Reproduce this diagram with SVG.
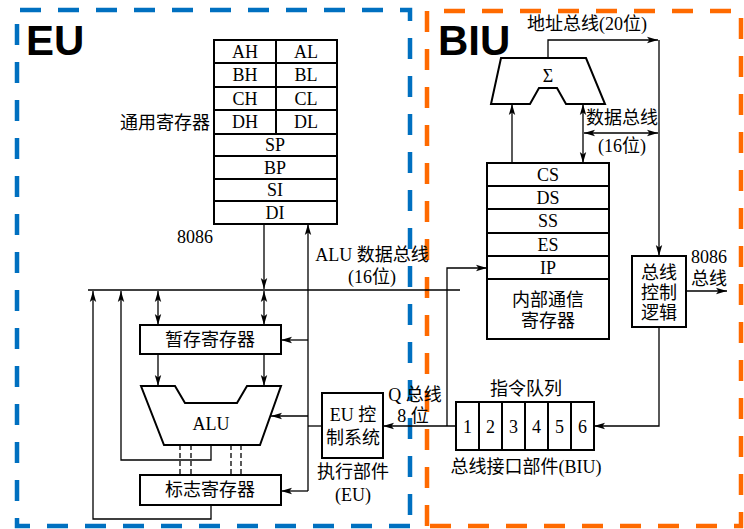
<svg xmlns="http://www.w3.org/2000/svg" width="744" height="529" viewBox="0 0 744 529">
<style>
.box{fill:#fff;stroke:#000;stroke-width:2}
.sep{fill:none;stroke:#000;stroke-width:2}
.ln{fill:none;stroke:#000;stroke-width:1.3}
.da{fill:none;stroke:#000;stroke-width:1.3;stroke-dasharray:5 3}
.t{font-family:"Liberation Serif","Noto Sans CJK SC",serif;font-size:18px;fill:#000;text-anchor:middle;dominant-baseline:central}
.big{font-family:"Liberation Sans",Arial,sans-serif;font-weight:bold;font-size:42px;fill:#000}
.eu{fill:none;stroke:#0070C0;stroke-width:4.5;stroke-dasharray:21 17}
.biu{fill:none;stroke:#FF6A00;stroke-width:4.5;stroke-dasharray:21 17}
</style>
<defs>
<marker id="a" markerUnits="userSpaceOnUse" markerWidth="12" markerHeight="8" refX="11" refY="4" orient="auto-start-reverse">
<path d="M0,0.8 L11,4 L0,7.2 L2.5,4 z" fill="#000"/>
</marker>
</defs>

<g id="eu-frame">
<path class="eu" d="M410,526 H17 V10 H410 Z" stroke-dashoffset="0"/>
<text class="big" x="26" y="55">EU</text>
</g>
<g id="biu-frame">
<path class="biu" d="M427,526 V11 H741 V526 Z"/>
<text class="big" x="438" y="55">BIU</text>
</g>

<g id="connectors">
<path class="ln" d="M88,290 H460"/>
<path class="ln" d="M264,224 V289" marker-end="url(#a)"/>
<path class="ln" d="M264,291 V325" marker-start="url(#a)" marker-end="url(#a)"/>
<path class="ln" d="M158,291 V325" marker-start="url(#a)" marker-end="url(#a)"/>
<path class="ln" d="M158,354 V386" marker-end="url(#a)"/>
<path class="ln" d="M264,354 V386" marker-end="url(#a)"/>
<path class="ln" d="M308,491 V224" marker-end="url(#a)"/>
<path class="ln" d="M308,340 H281" marker-end="url(#a)"/>
<path class="ln" d="M308,416 H271" marker-end="url(#a)"/>
<path class="ln" d="M308,491 H281" marker-end="url(#a)"/>
<path class="ln" d="M322,426 H308"/>
<path class="ln" d="M211,445 V460 H121 V291" marker-end="url(#a)"/>
<path class="ln" d="M211,505 V519 H93 V291" marker-end="url(#a)"/>
<path class="da" d="M180,445 V475 M191,445 V475 M231,445 V475 M241,445 V475"/>
<path class="ln" d="M456,426 H383" marker-end="url(#a)"/>
<path class="ln" d="M447,426 V268 H487" marker-end="url(#a)"/>
<path class="ln" d="M548,58 V40 H658" marker-end="url(#a)"/>
<path class="ln" d="M659,40 V256" marker-end="url(#a)"/>
<path class="ln" d="M512,163 V104" marker-end="url(#a)"/>
<path class="ln" d="M583,104 V163" marker-start="url(#a)" marker-end="url(#a)"/>
<path class="ln" d="M584,133 H658" marker-start="url(#a)" marker-end="url(#a)"/>
<path class="ln" d="M686,291 H727" marker-end="url(#a)"/>
<path class="ln" d="M659,327 V426 H594" marker-end="url(#a)"/>
</g>

<g id="gp-registers">
<rect class="box" x="214" y="40" width="123" height="184"/>
<path class="sep" d="M214,63 H337 M214,87 H337 M214,110 H337 M214,134 H337 M214,156 H337 M214,179 H337 M214,201 H337 M276,40 V134"/>
<text class="t" x="245" y="52">AH</text><text class="t" x="306" y="52">AL</text>
<text class="t" x="245" y="75">BH</text><text class="t" x="306" y="75">BL</text>
<text class="t" x="245" y="99">CH</text><text class="t" x="306" y="99">CL</text>
<text class="t" x="245" y="122">DH</text><text class="t" x="306" y="122">DL</text>
<text class="t" x="275" y="145">SP</text>
<text class="t" x="275" y="168">BP</text>
<text class="t" x="275" y="190">SI</text>
<text class="t" x="275" y="213">DI</text>
<text class="t" x="210" y="123" style="text-anchor:end">通用寄存器</text>
</g>

<g id="label-8086"><text class="t" x="195" y="237">8086</text></g>
<g id="label-alubus">
<text class="t" x="372" y="255">ALU 数据总线</text>
<text class="t" x="372" y="277">(16位)</text>
</g>

<g id="temp-reg">
<rect class="box" x="140" y="325" width="141" height="29"/>
<text class="t" x="210" y="340">暂存寄存器</text>
</g>

<g id="alu">
<path class="box" d="M141,386 H175 L185,403 H237 L247,386 H281 L260,445 H164 Z"/>
<text class="t" x="211" y="424">ALU</text>
</g>

<g id="flags">
<rect class="box" x="140" y="475" width="141" height="30"/>
<text class="t" x="210" y="490">标志寄存器</text>
</g>

<g id="eu-control">
<rect class="box" x="322" y="393" width="61" height="65"/>
<text class="t" x="353" y="415">EU 控</text>
<text class="t" x="353" y="438">制系统</text>
<text class="t" x="353" y="472">执行部件</text>
<text class="t" x="353" y="495">(EU)</text>
</g>

<g id="label-qbus">
<text class="t" x="415" y="395">Q 总线</text>
<text class="t" x="413" y="416">8 位</text>
</g>

<g id="adder">
<path class="box" d="M501,58 H586 L605,104 H566 L557,88 H539 L530,104 H491 Z"/>
<text class="t" x="548" y="76">Σ</text>
</g>
<g id="label-addrbus"><text class="t" x="587" y="24">地址总线(20位)</text></g>
<g id="label-databus">
<text class="t" x="622" y="118">数据总线</text>
<text class="t" x="622" y="146">(16位)</text>
</g>

<g id="seg-registers">
<rect class="box" x="487" y="163" width="122" height="176"/>
<path class="sep" d="M487,186 H609 M487,209 H609 M487,233 H609 M487,256 H609 M487,279 H609"/>
<text class="t" x="548" y="175">CS</text>
<text class="t" x="548" y="198">DS</text>
<text class="t" x="548" y="221">SS</text>
<text class="t" x="548" y="245">ES</text>
<text class="t" x="548" y="268">IP</text>
<text class="t" x="548" y="300">内部通信</text>
<text class="t" x="548" y="321">寄存器</text>
</g>

<g id="bus-control">
<rect class="box" x="632" y="256" width="54" height="71"/>
<text class="t" x="659" y="273">总线</text>
<text class="t" x="659" y="293">控制</text>
<text class="t" x="659" y="313">逻辑</text>
</g>
<g id="label-8086bus">
<text class="t" x="709" y="257">8086</text>
<text class="t" x="709" y="279">总线</text>
</g>

<g id="queue">
<rect class="box" x="456" y="402" width="138" height="48"/>
<path class="sep" d="M479,402 V450 M502,402 V450 M525,402 V450 M548,402 V450 M571,402 V450"/>
<text class="t" x="467.5" y="427">1</text>
<text class="t" x="490.5" y="427">2</text>
<text class="t" x="513.5" y="427">3</text>
<text class="t" x="536.5" y="427">4</text>
<text class="t" x="559.5" y="427">5</text>
<text class="t" x="582.5" y="427">6</text>
<text class="t" x="526" y="389">指令队列</text>
<text class="t" x="526" y="467">总线接口部件(BIU)</text>
</g>
</svg>
